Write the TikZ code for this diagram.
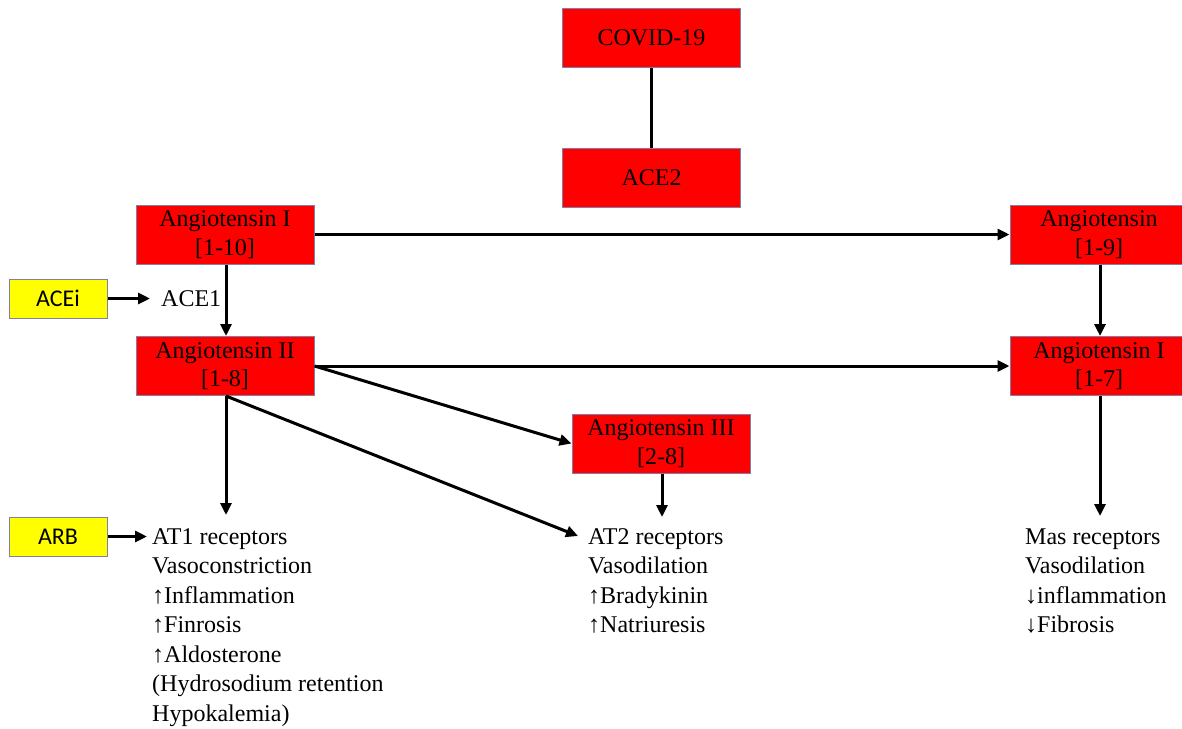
\documentclass[tikz,border=0pt]{standalone}
\usepackage{fontspec}
\setmainfont{Liberation Serif}
\newfontfamily\sansf{Carlito}
\usetikzlibrary{arrows.meta}
\definecolor{boxred}{HTML}{FF0000}
\definecolor{boxyel}{HTML}{FFFF00}
\definecolor{edgeblue}{HTML}{7F7FA8}
\begin{document}
\begin{tikzpicture}[x=1pt,y=-1pt,
  redbox/.style={draw=edgeblue,line width=1pt,fill=boxred,minimum width=178pt,minimum height=59pt,
    inner sep=0pt,align=center,font=\fontsize{24}{28.5}\selectfont},
  yelbox/.style={draw=edgeblue,line width=1pt,fill=boxyel,minimum width=98pt,minimum height=39pt,
    inner sep=0pt,font=\sansf\fontsize{24}{28}\selectfont},
  txt/.style={anchor=base west,inner sep=0pt,font=\fontsize{24}{28}\selectfont},
  conn/.style={line width=3pt},
  arr/.style={line width=3pt,-{Triangle[length=12pt,width=11pt]}}]
\useasboundingbox (0,0) rectangle (1182,728);
\clip (0,0) rectangle (1182,728);
\fill[white] (0,0) rectangle (1182,728);
% boxes
\node[redbox] (covid) at (651.5,37.5) {COVID-19};
\node[redbox] (ace2) at (651.5,177.5) {ACE2};
\node[redbox] (ang1) at (225,234.5) {Angiotensin I\\{}[1-10]};
\node[redbox] (ang2) at (225,366) {Angiotensin II\\{}[1-8]};
\node[redbox] (ang19) at (1099,234.5) {Angiotensin\\{}[1-9]};
\node[redbox] (ang17) at (1099,366) {Angiotensin I\\{}[1-7]};
\node[redbox] (ang3) at (661,443.5) {Angiotensin III\\{}[2-8]};
\node[yelbox] (acei) at (58,298.5) {ACEi};
\node[yelbox] (arb) at (58,536.5) {ARB};
\node[txt] (ace1) at (161,306) {ACE1};
% receptor texts
\node[txt] (at1a) at (152,544) {AT1 receptors};
\node[txt] (at1b) at (152,573.5) {Vasoconstriction};
\node[txt] (at1c) at (152,603) {↑Inflammation};
\node[txt] (at1d) at (152,632.5) {↑Finrosis};
\node[txt] (at1e) at (152,662) {↑Aldosterone};
\node[txt] (at1f) at (152,691.5) {(Hydrosodium retention};
\node[txt] (at1g) at (152,721) {Hypokalemia)};
\node[txt] (at2a) at (588,544) {AT2 receptors};
\node[txt] (at2b) at (588,573.5) {Vasodilation};
\node[txt] (at2c) at (588,603) {↑Bradykinin};
\node[txt] (at2d) at (588,632.5) {↑Natriuresis};
\node[txt] (masa) at (1025,544) {Mas receptors};
\node[txt] (masb) at (1025,573.5) {Vasodilation};
\node[txt] (masc) at (1025,603) {↓inflammation};
\node[txt] (masd) at (1025,632.5) {↓Fibrosis};
% free ends
\coordinate (acetip) at (150,298.5);
\coordinate (arbtip) at (147,536.5);
\coordinate (at1top) at (226,515);
\coordinate (at2tip) at (578,536);
\coordinate (ang3tip) at (662,517);
\coordinate (mastip) at (1100,516);
% connectors
\draw[conn] (covid.south) -- (ace2.north);
\draw[arr] (ang1.east) -- (ang19.west);
\draw[arr] (ang1.south -| 226,0) -- (ang2.north -| 226,0);
\draw[arr] (acei.east) -- (acetip);
\draw[arr] (ang2.east) -- (ang17.west);
\draw[arr] (ang2.east) -- (ang3.west);
\draw[arr] (ang2.south -| 226,0) -- (at1top);
\draw[arr] (ang2.south -| 226,0) -- (at2tip);
\draw[arr] (ang3.south -| 662,0) -- (ang3tip);
\draw[arr] (ang19.south -| 1100,0) -- (ang17.north -| 1100,0);
\draw[arr] (ang17.south -| 1100,0) -- (mastip);
\draw[arr] (arb.east) -- (arbtip);
\end{tikzpicture}
\end{document}
